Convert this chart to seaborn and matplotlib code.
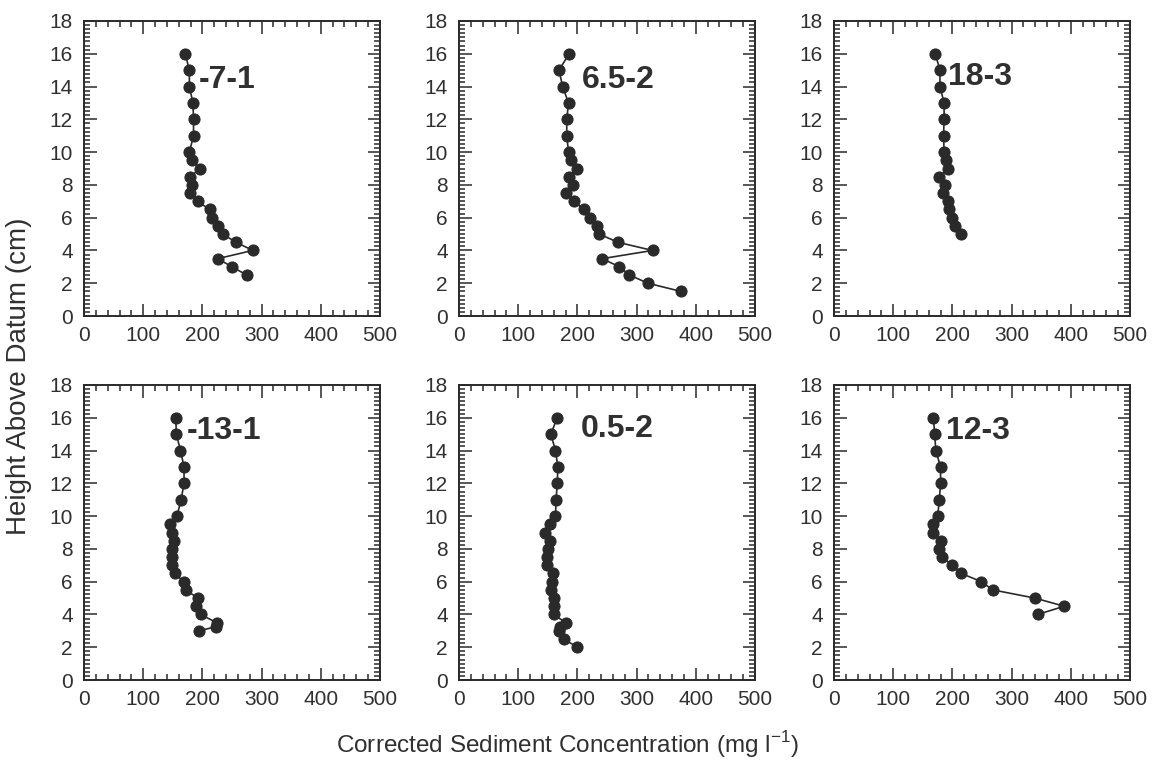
import matplotlib
matplotlib.use("Agg")
import matplotlib.pyplot as plt
from matplotlib.ticker import MultipleLocator
import seaborn as sns
import pandas as pd

sns.set_theme(style="white")
plt.rcParams['font.family'] = ['Liberation Sans', 'DejaVu Sans']
plt.rcParams['mathtext.fontset'] = 'custom'
plt.rcParams['mathtext.rm'] = 'Liberation Sans'

# ---- data (concentration mg/l, height cm) ----
labels = ["-7-1", "6.5-2", "18-3", "-13-1", "0.5-2", "12-3"]

conc_m7_1 = [171, 178, 178, 184, 185, 185, 178, 182, 196, 179, 182, 179, 192, 212, 217, 227, 234, 257, 285, 226, 250, 275]
hgt_m7_1 = [16, 15, 14, 13, 12, 11, 10, 9.5, 9, 8.5, 8, 7.5, 7, 6.5, 6, 5.5, 5, 4.5, 4, 3.5, 3, 2.5]

conc_6p5_2 = [186, 169, 175, 185, 182, 182, 185, 190, 199, 185, 192, 180, 194, 211, 221, 233, 237, 268, 327, 242, 271, 288, 319, 375]
hgt_6p5_2 = [16, 15, 14, 13, 12, 11, 10, 9.5, 9, 8.5, 8, 7.5, 7, 6.5, 6, 5.5, 5, 4.5, 4, 3.5, 3, 2.5, 2, 1.5]

conc_18_3 = [171, 179, 179, 186, 186, 185, 186, 189, 193, 177, 188, 184, 193, 195, 199, 205, 215]
hgt_18_3 = [16, 15, 14, 13, 12, 11, 10, 9.5, 9, 8.5, 8, 7.5, 7, 6.5, 6, 5.5, 5]

conc_m13_1 = [155, 156, 163, 169, 169, 164, 157, 146, 148, 152, 149, 149, 149, 153, 169, 172, 192, 189, 197, 224, 223, 194]
hgt_m13_1 = [16, 15, 14, 13, 12, 11, 10, 9.5, 9, 8.5, 8, 7.5, 7, 6.5, 6, 5.5, 5, 4.5, 4, 3.5, 3.25, 3]

conc_0p5_2 = [166, 155, 163, 167, 166, 164, 163, 153, 145, 153, 150, 148, 148, 158, 157, 155, 160, 161, 160, 180, 171, 169, 177, 200]
hgt_0p5_2 = [16, 15, 14, 13, 12, 11, 10, 9.5, 9, 8.5, 8, 7.5, 7, 6.5, 6, 5.5, 5, 4.5, 4, 3.5, 3.25, 3, 2.5, 2]

conc_12_3 = [168, 170, 172, 180, 180, 178, 175, 167, 168, 181, 178, 183, 199, 215, 249, 268, 339, 389, 344]
hgt_12_3 = [16, 15, 14, 13, 12, 11, 10, 9.5, 9, 8.5, 8, 7.5, 7, 6.5, 6, 5.5, 5, 4.5, 4]

series = [
    (conc_m7_1, hgt_m7_1),
    (conc_6p5_2, hgt_6p5_2),
    (conc_18_3, hgt_18_3),
    (conc_m13_1, hgt_m13_1),
    (conc_0p5_2, hgt_0p5_2),
    (conc_12_3, hgt_12_3),
]

# label anchor positions (data coords, left edge / vertical centre)
label_x = [194, 207, 192, 174, 205, 190]
label_y = [14.4, 14.4, 14.6, 15.2, 15.3, 15.2]

ink = "#2a2a2a"

W, H = 1165, 767
fig = plt.figure(figsize=(W / 100, H / 100), dpi=100)
fig.patch.set_facecolor("white")

col_left = [84, 459, 834]
row_top = [21, 385]
aw, ah = 296, 295

for i, (xs, ys) in enumerate(series):
    r, c = divmod(i, 3)
    left = col_left[c] / W
    bottom = 1 - (row_top[r] + ah) / H
    ax = fig.add_axes([left, bottom, aw / W, ah / H])
    ax.set_facecolor("white")
    df = pd.DataFrame({"conc": xs, "hgt": ys})
    sns.lineplot(data=df, x="conc", y="hgt", sort=False, estimator=None,
                 color=ink, linewidth=1.2, marker="o", markersize=8,
                 markeredgecolor=ink, markerfacecolor=ink, ax=ax)
    ax.set_xlim(0, 500)
    ax.set_ylim(0, 18)
    ax.xaxis.set_major_locator(MultipleLocator(100))
    ax.xaxis.set_minor_locator(MultipleLocator(20))
    ax.yaxis.set_major_locator(MultipleLocator(2))
    ax.yaxis.set_minor_locator(MultipleLocator(0.25))
    ax.tick_params(which="both", direction="in", top=True, right=True,
                   bottom=True, left=True, color=ink, width=1.1)
    ax.tick_params(which="major", length=9, labelsize=15, labelcolor="#303030")
    ax.tick_params(which="minor", length=4.5)
    ax.tick_params(axis="y", which="major", pad=8)
    ax.tick_params(axis="x", which="major", pad=7)
    for sp in ax.spines.values():
        sp.set_color(ink)
        sp.set_linewidth(1.4)
        sp.set_visible(True)
    ax.set_xlabel("")
    ax.set_ylabel("")
    ax.text(label_x[i], label_y[i], labels[i], fontsize=23, fontweight="bold",
            color="#303030", ha="left", va="center")

fig.text(567 / W, 1 - 745 / H, r"Corrected Sediment Concentration (mg l$^{\mathregular{-1}}$)",
         fontsize=17.5, color="#303030", ha="center", va="center")
fig.text(19 / W, 1 - 376 / H, "Height Above Datum (cm)", fontsize=20,
         color="#303030", ha="center", va="center", rotation=90)

fig.savefig("out.png", dpi=100, facecolor="white")
